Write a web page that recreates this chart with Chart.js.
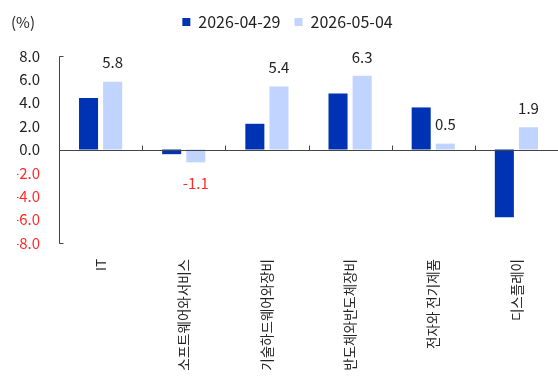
<!DOCTYPE html>
<html>
<head>
<meta charset="utf-8">
<script src="https://cdn.jsdelivr.net/npm/chart.js@4"></script>
<style>
  html, body { margin: 0; padding: 0; background: #fff; overflow: hidden; }
  #wrap { width: 558px; height: 376px; position: relative; }
</style>
</head>
<body>
<div id="wrap"><canvas id="chart"></canvas></div>
<script>
const categories = ['IT', '소프트웨어와서비스', '기술하드웨어와장비', '반도체와반도체장비', '전자와 전기제품', '디스플레이'];
const seriesNames = ['2026-04-29', '2026-05-04'];
const valuesApr29 = [4.4, -0.4, 2.2, 4.8, 3.6, -5.8];
const valuesMay04 = [5.8, -1.1, 5.4, 6.3, 0.5, 1.9];
const yTicks = [8, 6, 4, 2, 0, -2, -4, -6, -8];

const FONT = '"Noto Sans CJK KR", "Noto Sans", sans-serif';

// 축선, 0선, 카테고리 경계 눈금
const axisPlugin = {
    id: 'axisLines',
    afterDatasetsDraw(chart) {
        const { ctx, chartArea, scales } = chart;
        const y = scales.y, x = scales.x;
        const y0 = Math.round(y.getPixelForValue(0)) + 0.5;
        const left = Math.round(chartArea.left) + 0.5;
        const top = Math.round(y.getPixelForValue(8)) + 0.5;
        const bottom = Math.round(y.getPixelForValue(-8)) + 0.5;
        ctx.save();
        ctx.strokeStyle = '#444';
        ctx.lineWidth = 1;
        ctx.beginPath();
        ctx.moveTo(left + 4, top); ctx.lineTo(left, top); ctx.lineTo(left, bottom); ctx.lineTo(left + 4, bottom);
        ctx.moveTo(left, y0); ctx.lineTo(chartArea.right, y0);
        for (let i = 0; i < categories.length - 1; i++) {
            const bx = Math.round((x.getPixelForValue(i) + x.getPixelForValue(i + 1)) / 2) + 0.5;
            ctx.moveTo(bx, y0); ctx.lineTo(bx, y0 - 5);
        }
        ctx.stroke();
        // 단위 표시
        ctx.fillStyle = '#222';
        ctx.font = '15px ' + FONT;
        ctx.textBaseline = 'middle';
        ctx.textAlign = 'left';
        ctx.fillText('(%)', 11, 22);
        ctx.restore();
    }
};

// 2026-05-04 막대 값 라벨
const valueLabelPlugin = {
    id: 'valueLabels',
    afterDatasetsDraw(chart) {
        const { ctx } = chart;
        const meta = chart.getDatasetMeta(1);
        ctx.save();
        ctx.font = '15px ' + FONT;
        ctx.textAlign = 'center';
        ctx.textBaseline = 'middle';
        meta.data.forEach((bar, i) => {
            const v = valuesMay04[i];
            const neg = v < 0;
            ctx.fillStyle = neg ? '#FF2A2A' : '#222';
            const ty = neg ? bar.y + 21 : bar.y - 19;
            ctx.fillText(v.toFixed(1), bar.x, ty);
        });
        ctx.restore();
    }
};

new Chart(document.getElementById('chart'), {
    type: 'bar',
    data: {
        labels: categories,
        datasets: [
            { label: seriesNames[0], data: valuesApr29, backgroundColor: '#0033B4' },
            { label: seriesNames[1], data: valuesMay04, backgroundColor: '#C0D4FF' }
        ]
    },
    options: {
        responsive: true,
        maintainAspectRatio: false,
        animation: false,
        datasets: { bar: { categoryPercentage: 0.58, barPercentage: 0.79 } },
        layout: { padding: { left: 17, right: 0, top: 0, bottom: 0 } },
        plugins: {
            legend: {
                display: true,
                position: 'top',
                labels: {
                    boxWidth: 8, boxHeight: 8, padding: 14,
                    color: '#222',
                    font: { size: 16, family: FONT }
                }
            },
            tooltip: { enabled: false }
        },
        scales: {
            // 범례와 그래프 사이 여백용 빈 축
            gap: {
                type: 'category',
                position: 'top',
                grid: { display: false },
                border: { display: false },
                ticks: { display: false },
                afterFit: (scale) => { scale.height = 16; }
            },
            x: {
                grid: { display: false },
                border: { display: false },
                ticks: {
                    autoSkip: false, minRotation: 90, maxRotation: 90, padding: 8,
                    color: '#222',
                    font: { size: 13.5, family: FONT }
                },
                afterFit: (scale) => { scale.height = 133; }
            },
            y: {
                min: -8, max: 8,
                grid: { display: false, drawTicks: false },
                border: { display: false },
                afterBuildTicks: (scale) => { scale.ticks = yTicks.map(v => ({ value: v })); },
                ticks: {
                    padding: 19,
                    callback: (v) => Number(v).toFixed(1),
                    color: (c) => c.tick.value < 0 ? '#FF2A2A' : '#222',
                    font: { size: 15, family: FONT }
                },
                afterFit: (scale) => { scale.width = 42; }
            }
        }
    },
    plugins: [axisPlugin, valueLabelPlugin]
});
</script>
</body>
</html>
